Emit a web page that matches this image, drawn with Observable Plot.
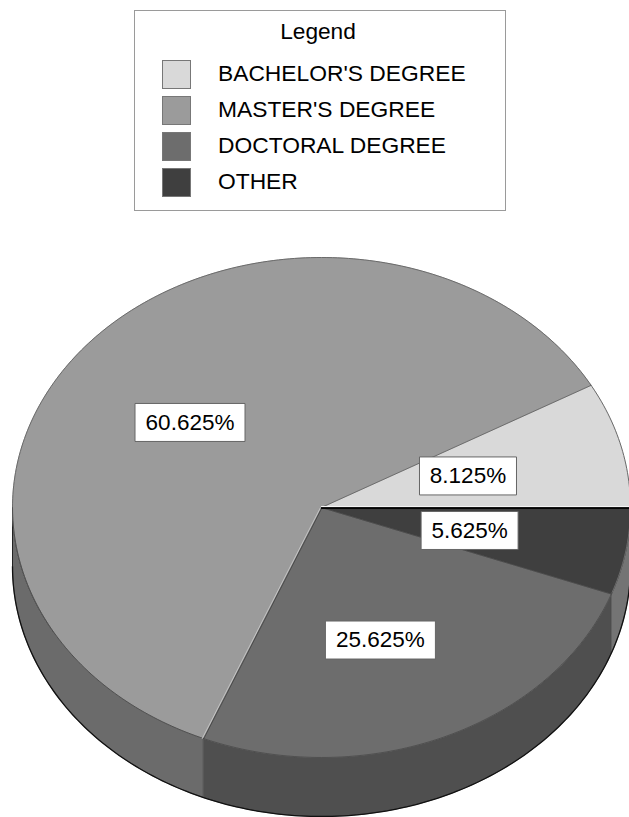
<!DOCTYPE html>
<html>
<head>
<meta charset="utf-8">
<script src="https://cdn.jsdelivr.net/npm/d3@7"></script>
<script src="https://cdn.jsdelivr.net/npm/@observablehq/plot@0.6"></script>
<style>
  html, body { margin: 0; padding: 0; background: #fff; overflow: hidden; }
  body { width: 629px; height: 817px; font-family: "Liberation Sans", Arial, sans-serif; color: #000; }
  #legend { position: relative; width: 629px; height: 240px; }
  #legend .box { position: absolute; left: 134px; top: 10px; width: 370px; height: 199px; border: 1px solid #9a9a9a; }
  #legend .title { position: absolute; left: 134px; width: 368px; top: 17px; text-align: center; font-size: 22.7px; line-height: 28px; }
  #legend .swatch { position: absolute; left: 162px; width: 27px; height: 27px; border: 1px solid #777; }
  #legend .name { position: absolute; left: 218px; font-size: 22.8px; line-height: 28px; white-space: nowrap; }
  svg { display: block; }
</style>
</head>
<body>
<div id="legend"><div class="box"></div><div class="title">Legend</div></div>
<div id="chart"></div>
<script>
// Highest degree held, share of respondents in percent
const categories = ["BACHELOR'S DEGREE", "MASTER'S DEGREE", "DOCTORAL DEGREE", "OTHER"];
const shares = [8.125, 60.625, 25.625, 5.625];
const topColors = ["#d9d9d9", "#9b9b9b", "#6d6d6d", "#3f3f3f"];
const sideColors = ["#a8a8a8", "#6b6b6b", "#4f4f4f", "#747474"];

// Label placement relative to each slice's mid-angle position, in pixels
const labelNudges = [[-3, 0], [-16, -2], [-3, 18], [-4, 1]];
const labelBoxWidths = [97, 110, 110, 97];

// Pie layout: slices run counter-clockwise from due east.
const thickness = 0.236;   // wall height, in units of the vertical radius
const labelRadius = 0.5;
const degrees = d3.cumsum(shares, (s) => s * 3.6);
const slices = categories.map((name, i) => ({
  name,
  share: shares[i],
  // clockwise angles measured from east, y pointing down
  from: 360 - degrees[i],
  to: 360 - (i ? degrees[i - 1] : 0)
}));

const onRim = (deg, drop = 0) => ({
  x: Math.cos(deg * Math.PI / 180),
  y: Math.sin(deg * Math.PI / 180) + drop
});
const arc = (from, to, drop = 0) => {
  const steps = Math.max(2, Math.ceil(Math.abs(to - from)));
  return d3.range(steps + 1).map((k) => onRim(from + (to - from) * k / steps, drop));
};
const centre = {x: 0, y: 0};

const marks = [];

// Front walls come first so the top faces sit over them.
slices.forEach((s, i) => {
  const a = Math.max(s.from, 0), b = Math.min(s.to, 180);
  if (a >= b) return;
  marks.push(Plot.line([...arc(a, b), ...arc(b, a, thickness)], {
    x: "x", y: "y", fill: sideColors[i], stroke: "#3a3a3a", strokeWidth: 0.6
  }));
});
marks.push(Plot.line(arc(0, 180, thickness), {x: "x", y: "y", stroke: "#111", strokeWidth: 1.3}));
marks.push(Plot.line(arc(150, 180, 0).concat(arc(180, 180, thickness)), {x: "x", y: "y", stroke: "#222", strokeWidth: 1}));

// Top faces
slices.forEach((s, i) => {
  marks.push(Plot.line([centre, ...arc(s.from, s.to), centre], {
    x: "x", y: "y", fill: topColors[i], stroke: topColors[i], strokeWidth: 0.6
  }));
});

// Rim and the slice borders
marks.push(Plot.line(arc(0, 360), {x: "x", y: "y", stroke: "#6a6a6a", strokeWidth: 1}));
marks.push(Plot.line(arc(20, 180), {x: "x", y: "y", stroke: "#333", strokeWidth: 0.8, strokeOpacity: 0.6}));
slices.forEach((s) => {
  const edge = [centre, onRim(s.from)];
  if (Math.abs(s.from - 112.5) < 1) {
    marks.push(Plot.line(edge, {x: "x", y: "y", stroke: "#c4c4c4", strokeWidth: 1, dx: -1}));
    marks.push(Plot.line(edge, {x: "x", y: "y", stroke: "#3c3c3c", strokeWidth: 1, dx: 0.6, strokeOpacity: 0.7}));
  } else {
    marks.push(Plot.line(edge, {x: "x", y: "y", stroke: "#484848", strokeWidth: 0.8, strokeOpacity: 0.8}));
  }
});
const eastEdge = [centre, onRim(0)];
marks.push(Plot.line(eastEdge, {x: "x", y: "y", stroke: "#f4f4f4", strokeWidth: 1.2, dy: -1}));
marks.push(Plot.line(eastEdge, {x: "x", y: "y", stroke: "#050505", strokeWidth: 1.6, dy: 0.6}));

// Value labels on white boxes
const boxSymbol = (w, h) => ({
  draw(context) { context.rect(-w / 2, -h / 2, w, h); context.closePath(); }
});
slices.forEach((s, i) => {
  const mid = (s.from + s.to) / 2;
  const at = [{
    x: labelRadius * Math.cos(mid * Math.PI / 180),
    y: labelRadius * Math.sin(mid * Math.PI / 180),
    label: `${s.share}%`
  }];
  const [dx, dy] = labelNudges[i];
  marks.push(Plot.dot(at, {
    x: "x", y: "y", dx, dy, r: 5,
    symbol: boxSymbol(labelBoxWidths[i], 38),
    fill: "white", stroke: "#666", strokeWidth: 1
  }));
  marks.push(Plot.text(at, {
    x: "x", y: "y", dx, dy, text: "label",
    fontSize: 22.5, fontFamily: "Liberation Sans, Arial, sans-serif", fill: "#000"
  }));
});

const legendHeight = 240;
const chart = Plot.plot({
  width: 629,
  height: 817 - legendHeight,
  margin: 0,
  style: {background: "transparent"},
  x: {domain: [-1, 1], range: [12, 630], axis: null},
  y: {domain: [-1, 1], range: [257 - legendHeight, 757 - legendHeight], axis: null},
  marks
});
document.getElementById("chart").append(chart);

// Legend swatches and names
const legend = document.getElementById("legend");
const swatchTops = d3.range(categories.length).map((i) => 60 + i * 36);
categories.forEach((name, i) => {
  const swatch = document.createElement("div");
  swatch.className = "swatch";
  swatch.style.top = `${swatchTops[i]}px`;
  swatch.style.background = topColors[i];
  legend.append(swatch);
  const label = document.createElement("div");
  label.className = "name";
  label.style.top = `${swatchTops[i] - 1}px`;
  label.textContent = name;
  legend.append(label);
});
</script>
</body>
</html>
